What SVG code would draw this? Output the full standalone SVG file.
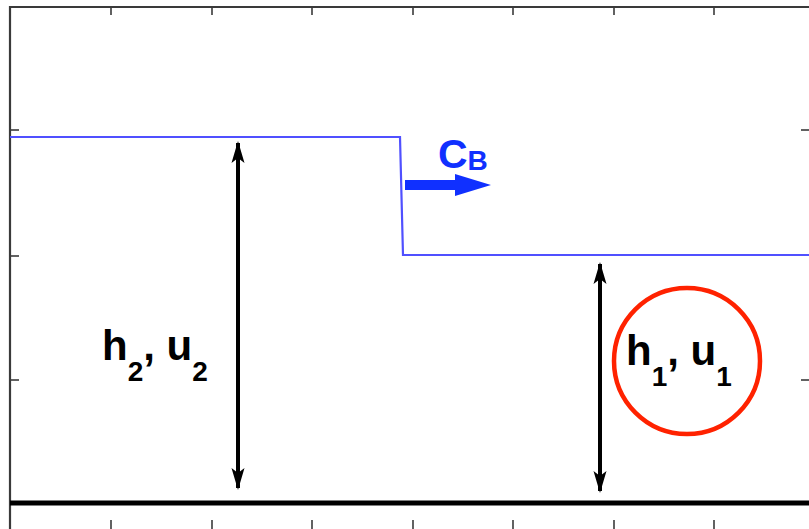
<svg xmlns="http://www.w3.org/2000/svg" width="809" height="529" viewBox="0 0 809 529">
<style>
.frame{stroke:#3a3a3a;stroke-width:2.2;fill:none}
.tick{stroke:#3a3a3a;stroke-width:1.6}
.surf{stroke:#5050ff;stroke-width:2.2;fill:none}
.lbl{font-family:"Liberation Sans",Arial,sans-serif;font-weight:bold;fill:#000}
.dim{stroke:#000;stroke-width:4}
</style>
<defs>
<marker id="ah" viewBox="0 0 22 16" refX="20" refY="8" markerWidth="22" markerHeight="16" markerUnits="userSpaceOnUse" orient="auto-start-reverse">
<path d="M0,1.5 L22,8 L0,14.5 L5,8 Z" fill="#000"/>
</marker>
</defs>
<g id="axes">
<path class="frame" d="M10,529 V7 H809"/>
<line class="frame" x1="10" y1="503" x2="809" y2="503" style="stroke:#000;stroke-width:5"/>
<g class="tick">
<line x1="111" y1="7" x2="111" y2="15"/><line x1="212" y1="7" x2="212" y2="15"/><line x1="312" y1="7" x2="312" y2="15"/><line x1="413" y1="7" x2="413" y2="15"/><line x1="513" y1="7" x2="513" y2="15"/><line x1="614" y1="7" x2="614" y2="15"/><line x1="714" y1="7" x2="714" y2="15"/>
<line x1="111" y1="520" x2="111" y2="529"/><line x1="212" y1="520" x2="212" y2="529"/><line x1="312" y1="520" x2="312" y2="529"/><line x1="413" y1="520" x2="413" y2="529"/><line x1="513" y1="520" x2="513" y2="529"/><line x1="614" y1="520" x2="614" y2="529"/><line x1="714" y1="520" x2="714" y2="529"/>
<line x1="10" y1="130" x2="19" y2="130"/><line x1="10" y1="256" x2="19" y2="256"/><line x1="10" y1="380" x2="19" y2="380"/>
<line x1="801" y1="130" x2="809" y2="130"/><line x1="801" y1="380" x2="809" y2="380"/>
</g>
</g>
<g id="surface">
<path class="surf" d="M10,137 H400 L403,255 H809"/>
</g>
<g id="connectors">
<line class="dim" x1="238" y1="143" x2="238" y2="488" marker-start="url(#ah)" marker-end="url(#ah)"/>
<line class="dim" x1="600" y1="264" x2="600" y2="491" marker-start="url(#ah)" marker-end="url(#ah)"/>
<path d="M405,180 H455 V174 L491,185 L455,196 V190 H405 Z" fill="#1030ff"/>
</g>
<g id="cb-label">
<text class="lbl" x="438" y="168" font-size="41" style="fill:#1030ff">C<tspan font-size="28" dy="2">B</tspan></text>
</g>
<g id="h2-label">
<text class="lbl" x="102" y="360" font-size="42">h<tspan font-size="28" dy="21">2</tspan><tspan dy="-21">, u</tspan><tspan font-size="28" dy="21">2</tspan></text>
</g>
<g id="h1-label">
<text class="lbl" x="626" y="365" font-size="42">h<tspan font-size="28" dy="21">1</tspan><tspan dy="-21">, u</tspan><tspan font-size="28" dy="21">1</tspan></text>
</g>
<g id="highlight">
<circle cx="687" cy="361" r="73" fill="none" stroke="#ff2200" stroke-width="4.5"/>
</g>
</svg>
